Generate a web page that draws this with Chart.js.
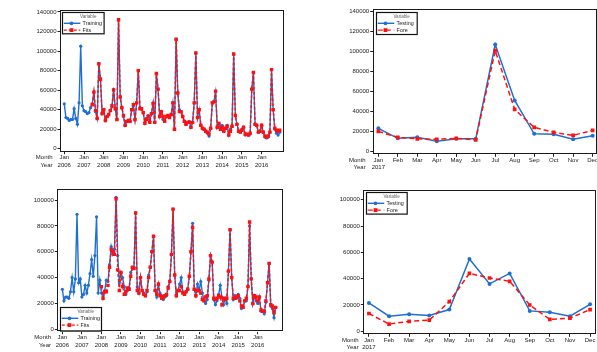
<!DOCTYPE html>
<html>
<head>
<meta charset="utf-8">
<script src="https://cdn.jsdelivr.net/npm/chart.js@4/dist/chart.umd.min.js"></script>
<style>
  body { margin: 0; background: #fff; overflow: hidden; }
  #wrap { position: relative; width: 597px; height: 352px; overflow: hidden; }
  canvas { position: absolute; }
</style>
</head>
<body>
<div id="wrap">
  <canvas id="trainTop" width="300" height="176" style="left:0;top:0"></canvas>
  <canvas id="testTop" width="310" height="176" style="left:300px;top:0"></canvas>
  <canvas id="trainBottom" width="300" height="176" style="left:0;top:176px"></canvas>
  <canvas id="testBottom" width="310" height="176" style="left:300px;top:176px"></canvas>
</div>
<script>
const years = ['2006', '2007', '2008', '2009', '2010', '2011', '2012', '2013', '2014', '2015', '2016'];
const janTicks = [0, 12, 24, 36, 48, 60, 72, 84, 96, 108, 120];
const months = ['Jan', 'Feb', 'Mar', 'Apr', 'May', 'Jun', 'Jul', 'Aug', 'Sep', 'Oct', 'Nov', 'Dec'];
const testYear = '2017';
const yTicksTop = [0, 20000, 40000, 60000, 80000, 100000, 120000, 140000];
const yTicksBottom = [0, 20000, 40000, 60000, 80000, 100000];

// top row, monthly 2006-2016
const trainingTop = [
  46000, 32000, 31000, 29000, 30000, 30000, 41000, 31000, 25000, 47000, 105000, 44000,
  39000, 38000, 36000, 37000, 42000, 46000, 58000, 38000, 31000, 87000, 72000, 36000,
  40000, 29000, 33000, 35000, 39000, 43000, 61000, 41000, 30000, 132000, 53000, 42000,
  33000, 24000, 28000, 29000, 28000, 40000, 44000, 30000, 47000, 80000, 42000, 41000,
  37000, 27000, 31000, 34000, 28000, 36000, 47000, 27000, 77000, 61000, 33000, 38000,
  30000, 28000, 33000, 34000, 32000, 35000, 47000, 20000, 112000, 57000, 40000, 38000,
  33000, 28000, 25000, 27000, 28000, 22000, 27000, 47000, 98000, 32000, 40000, 24000,
  21000, 20000, 18000, 16000, 13000, 21000, 47000, 48000, 58000, 22000, 26000, 23000,
  24000, 18000, 21000, 24000, 14000, 20000, 23000, 97000, 34000, 25000, 18000, 17000,
  20000, 22000, 14000, 15000, 14000, 15000, 61000, 78000, 25000, 24000, 17000, 18000,
  24000, 17000, 12000, 11000, 12000, 17000, 81000, 40000, 20000, 16000, 14000, 17000
];
const fitsTopStart = 17;
const fitsTop = [
  45000, 58000, 39000, 31000, 87000, 71000, 36000,
  40000, 29000, 33000, 35000, 39000, 44000, 60000, 41000, 30000, 132000, 53000, 42000,
  34000, 24000, 28000, 29000, 28000, 40000, 45000, 30000, 47000, 80000, 41000, 41000,
  37000, 26000, 30000, 33000, 27000, 36000, 46000, 27000, 77000, 61000, 33000, 38000,
  33000, 28000, 33000, 34000, 32000, 35000, 47000, 20000, 112000, 57000, 38000, 38000,
  33000, 28000, 25000, 27000, 27000, 22000, 27000, 47000, 98000, 32000, 40000, 24000,
  21000, 20000, 18000, 17000, 15000, 21000, 47000, 48000, 59000, 22000, 26000, 20000,
  22000, 18000, 21000, 23000, 14000, 18000, 23000, 97000, 34000, 25000, 18000, 17000,
  19000, 22000, 15000, 15000, 14000, 16000, 61000, 78000, 25000, 24000, 17000, 18000,
  24000, 17000, 13000, 12000, 13000, 17000, 81000, 40000, 21000, 19000, 18000, 19000
];
const testingTop = [23000, 13000, 14000, 10000, 12500, 12500, 107000, 51000, 17500, 17000, 12000, 15500];
const foreTop = [20000, 14000, 12500, 12000, 13000, 11500, 101000, 42000, 24000, 19000, 16000, 21000];

// bottom row
const trainingBottom = [
  31000, 22000, 25000, 25000, 24000, 29000, 40000, 29000, 39000, 89000, 36000, 39000,
  25000, 27000, 34000, 28000, 34000, 43000, 54000, 41000, 57000, 87000, 28000, 38000,
  28000, 26000, 30000, 38000, 37000, 50000, 64000, 58000, 62000, 102000, 57000, 36000,
  44000, 40000, 33000, 27000, 30000, 32000, 44000, 47000, 48000, 90000, 33000, 28000,
  40000, 30000, 28000, 26000, 29000, 42000, 48000, 60000, 72000, 30000, 25000, 34000,
  28000, 26000, 23000, 25000, 26000, 33000, 37000, 58000, 93000, 42000, 26000, 30000,
  35000, 40000, 29000, 27000, 29000, 31000, 41000, 60000, 82000, 31000, 26000, 35000,
  30000, 37000, 28000, 22000, 20000, 23000, 38000, 57000, 52000, 23000, 19000, 22000,
  27000, 34000, 25000, 19000, 24000, 20000, 45000, 77000, 40000, 23000, 26000, 24000,
  27000, 24000, 16000, 17000, 22000, 22000, 33000, 80000, 39000, 20000, 26000, 22000,
  20000, 25000, 14000, 14000, 12000, 21000, 36000, 51000, 18000, 16000, 9000, 17000
];
const fitsBottomStart = 24;
const fitsBottom = [
  33000, 24000, 29000, 29000, 34000, 48000, 62000, 60000, 58000, 101000, 46000, 30000,
  44000, 33000, 27000, 29000, 32000, 31000, 41000, 48000, 47000, 90000, 30000, 28000,
  40000, 30000, 27000, 26000, 30000, 40000, 48000, 60000, 72000, 30000, 27000, 35000,
  26000, 24000, 25000, 26000, 27000, 32000, 37000, 58000, 93000, 42000, 26000, 30000,
  30000, 33000, 28000, 27000, 29000, 31000, 41000, 60000, 79000, 31000, 26000, 30000,
  30000, 28000, 23000, 22000, 25000, 26000, 39000, 57000, 52000, 24000, 23000, 24000,
  26000, 25000, 19000, 24000, 23000, 24000, 45000, 77000, 40000, 24000, 24000, 25000,
  26000, 22000, 18000, 17000, 22000, 24000, 33000, 83000, 39000, 20000, 26000, 25000,
  22000, 25000, 15000, 14000, 14000, 22000, 36000, 51000, 19000, 18000, 13000, 17000
];
const testingBottom = [21500, 11500, 13000, 12000, 16500, 55000, 36000, 44000, 15500, 14500, 11500, 20500];
const foreBottom = [13500, 5500, 7500, 8500, 22500, 44000, 40500, 38000, 20000, 9000, 10000, 16500];

const BLUE = '#1f6fd2';
const RED = '#ff1010';
const FONT = '"Liberation Sans", Arial, sans-serif';
const LINE_H = 7.8;

function points(values, start) {
  return values.map((v, i) => ({ x: i + start, y: v }));
}

// black box around the plot
const frame = {
  id: 'frame',
  afterDatasetsDraw(chart) {
    const a = chart.chartArea, ctx = chart.ctx;
    ctx.save();
    ctx.strokeStyle = '#1a1a1a';
    ctx.lineWidth = 1;
    ctx.strokeRect(Math.round(a.left) + 0.5, Math.round(a.top) + 0.5,
      Math.round(a.right - a.left) - 1, Math.round(a.bottom - a.top) - 1);
    ctx.restore();
  }
};

// "Month" / "Year" captions left of the x labels
const monthYear = {
  id: 'monthYear',
  afterDraw(chart, args, o) {
    const a = chart.chartArea, ctx = chart.ctx;
    const y1 = a.bottom + o.dy;
    ctx.save();
    ctx.font = '6px ' + FONT;
    ctx.fillStyle = '#222';
    ctx.textAlign = 'right';
    ctx.textBaseline = 'middle';
    ctx.fillText('Month', a.left - o.dx, y1);
    ctx.fillText('Year', a.left - o.dx, y1 + LINE_H);
    ctx.restore();
  }
};

// boxed legend with "Variable" heading
const boxLegend = {
  id: 'boxLegend',
  afterDraw(chart, args, o) {
    const a = chart.chartArea, ctx = chart.ctx;
    const x = Math.round(a.left + o.dx);
    const y = Math.round(o.bottom ? a.bottom - o.dy - o.h : a.top + o.dy);
    ctx.save();
    ctx.fillStyle = '#fff';
    ctx.fillRect(x, y, o.w, o.h);
    ctx.strokeStyle = '#111';
    ctx.lineWidth = 1.2;
    ctx.strokeRect(x + 0.5, y + 0.5, o.w, o.h);
    ctx.font = '4.6px ' + FONT;
    ctx.fillStyle = '#666';
    ctx.textAlign = 'center';
    ctx.textBaseline = 'middle';
    ctx.fillText('Variable', x + o.w * 0.63, y + 4.6);
    chart.data.datasets.forEach((ds, i) => {
      const ly = y + 11.3 + i * 6.8;
      ctx.strokeStyle = ds.borderColor;
      ctx.lineWidth = 1.4;
      ctx.setLineDash(ds.borderDash || []);
      ctx.beginPath();
      ctx.moveTo(x + 1.8, ly);
      ctx.lineTo(x + 18.3, ly);
      ctx.stroke();
      ctx.setLineDash([]);
      ctx.fillStyle = ds.borderColor;
      if (ds.pointStyle === 'rect') {
        ctx.fillRect(x + 7.6, ly - 1.9, 3.8, 3.8);
      } else {
        ctx.beginPath();
        ctx.arc(x + 9.5, ly, 1.9, 0, Math.PI * 2);
        ctx.fill();
      }
      ctx.font = '5.4px ' + FONT;
      ctx.fillStyle = '#222';
      ctx.textAlign = 'left';
      ctx.fillText(ds.label, x + 20.6, ly);
    });
    ctx.restore();
  }
};

function panel(id, cfg) {
  new Chart(document.getElementById(id), {
    type: 'line',
    data: { datasets: cfg.datasets },
    options: {
      responsive: false,
      animation: false,
      layout: { padding: cfg.pad },
      plugins: {
        legend: { display: false },
        tooltip: { enabled: false },
        boxLegend: cfg.legend,
        monthYear: { dx: cfg.captionDx, dy: 5.6 }
      },
      scales: {
        x: {
          type: 'linear',
          min: cfg.xMin,
          max: cfg.xMax,
          afterBuildTicks: s => { s.ticks = cfg.xTicks.map(v => ({ value: v })); },
          afterFit: s => { s.height = cfg.xHeight; },
          grid: { drawOnChartArea: false, drawTicks: true, tickLength: 2.5, color: '#222' },
          border: { display: false },
          ticks: {
            autoSkip: false, maxRotation: 0, padding: -0.8,
            color: '#222', font: { family: FONT, size: 6, lineHeight: LINE_H / 6 },
            callback: cfg.xLabel
          }
        },
        y: {
          min: cfg.yMin,
          max: cfg.yMax,
          afterBuildTicks: s => { s.ticks = cfg.yTicks.map(v => ({ value: v })); },
          afterFit: s => { s.width = 40; },
          grid: { drawOnChartArea: false, drawTicks: true, tickLength: 2.5, color: '#222' },
          border: { display: false },
          ticks: {
            padding: 1, color: '#222', font: { family: FONT, size: 6 },
            callback: v => String(v)
          }
        }
      }
    },
    plugins: [frame, monthYear, boxLegend]
  });
}

function trainSets(training, fits, fitsStart) {
  return [
    {
      label: 'Training', data: points(training, 0), borderColor: BLUE, backgroundColor: BLUE,
      borderWidth: 1.4, pointStyle: 'circle', pointRadius: 1.6, pointBorderWidth: 0, order: 2
    },
    {
      label: 'Fits', data: points(fits, fitsStart), borderColor: RED, backgroundColor: RED,
      borderWidth: 1.4, borderDash: [3, 2], pointStyle: 'rect', pointRadius: 2.4, pointBorderWidth: 0, order: 1
    }
  ];
}

function testSets(testing, fore) {
  return [
    {
      label: 'Testing', data: points(testing, 0), borderColor: BLUE, backgroundColor: BLUE,
      borderWidth: 1.5, pointStyle: 'circle', pointRadius: 2, pointBorderWidth: 0, order: 2
    },
    {
      label: 'Fore', data: points(fore, 0), borderColor: RED, backgroundColor: RED,
      borderWidth: 1.5, borderDash: [5, 3], pointStyle: 'rect', pointRadius: 2.6, pointBorderWidth: 0, order: 1
    }
  ];
}

const yearLabel = v => ['Jan', years[janTicks.indexOf(v)]];
const monthLabel = v => (v === 0 ? ['Jan', testYear] : months[v]);
const monthTicks = months.map((m, i) => i);

panel('trainTop', {
  datasets: trainSets(trainingTop, fitsTop, fitsTopStart),
  pad: { left: 20, right: 16.3, top: 10, bottom: 4.3 }, xHeight: 20,
  xMin: -2.6, xMax: 133.4, xTicks: janTicks, xLabel: yearLabel,
  yMin: -3000, yMax: 142000, yTicks: yTicksTop, captionDx: 7.5,
  legend: { dx: 1.7, dy: 2, w: 41.6, h: 21.3, bottom: false }
});

panel('testTop', {
  datasets: testSets(testingTop, foreTop),
  pad: { left: 32.7, right: 13.5, top: 9.3, bottom: 1.7 }, xHeight: 20,
  xMin: -0.29, xMax: 11.2, xTicks: monthTicks, xLabel: monthLabel,
  yMin: -3000, yMax: 142400, yTicks: yTicksTop, captionDx: 7,
  legend: { dx: 3.3, dy: 2.7, w: 40.7, h: 22, bottom: false }
});

panel('trainBottom', {
  datasets: trainSets(trainingBottom, fitsBottom, fitsBottomStart),
  pad: { left: 17.3, right: 16.7, top: 13.3, bottom: 0.3 }, xHeight: 20,
  xMin: -3.1, xMax: 135.7, xTicks: janTicks, xLabel: yearLabel,
  yMin: -1850, yMax: 108300, yTicks: yTicksBottom, captionDx: 6.3,
  legend: { dx: 2.7, dy: 1.4, w: 41, h: 23.6, bottom: true }
});

panel('testBottom', {
  datasets: testSets(testingBottom, foreBottom),
  pad: { left: 23.3, right: 13.5, top: 14, bottom: 0.7 }, xHeight: 17,
  xMin: -0.28, xMax: 11.32, xTicks: monthTicks, xLabel: monthLabel,
  yMin: -2300, yMax: 107400, yTicks: yTicksBottom, captionDx: 4.6,
  legend: { dx: 2.7, dy: 1.7, w: 40.7, h: 21.6, bottom: false }
});
</script>
</body>
</html>
